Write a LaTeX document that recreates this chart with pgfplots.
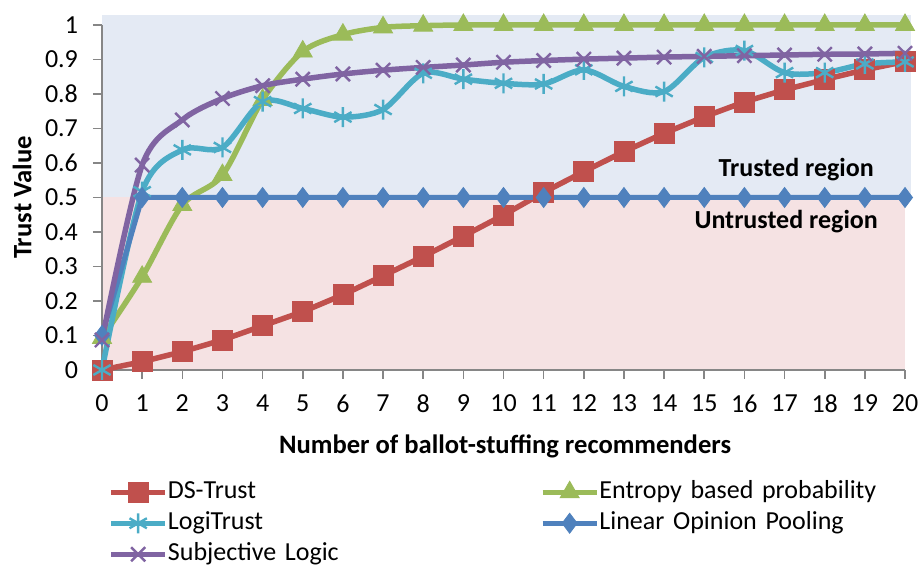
\documentclass[border=0pt]{standalone}
\usepackage{fontspec}
\setmainfont{Carlito}
\usepackage{pgfplots}
\pgfplotsset{compat=1.18}

\definecolor{dsred}{HTML}{C0504D}
\definecolor{entgreen}{HTML}{9BBB59}
\definecolor{logiaqua}{HTML}{4BACC6}
\definecolor{linblue}{HTML}{4F81BD}
\definecolor{subjpurple}{HTML}{8064A2}
\definecolor{bgblue}{HTML}{E4EAF4}
\definecolor{bgpink}{HTML}{F5E2E3}
\definecolor{axisgray}{HTML}{868686}

\begin{document}
\begin{tikzpicture}
\begin{axis}[
    at={(0,0)}, anchor=south west,
    scale only axis, width=401.5pt, height=172.5pt,
    set layers, clip=false,
    xmin=0, xmax=20, ymin=0, ymax=1,
    xtick={0,1,...,20},
    ytick={0,0.1,0.2,0.3,0.4,0.5,0.6,0.7,0.8,0.9,1},
    yticklabels={0,0.1,0.2,0.3,0.4,0.5,0.6,0.7,0.8,0.9,1},
    axis x line*=bottom, axis y line*=left,
    axis line style={draw=axisgray, line width=0.8pt, -},
    tick style={draw=axisgray, line width=0.8pt},
    major tick length=4.5pt,
    tick align=outside,
    /pgf/number format/assume math mode=true,
    tick label style={font=\fontsize{13}{15}\selectfont},
    xticklabel style={yshift=-4.5pt},
    yticklabel style={xshift=-4pt},
    xlabel={\bfseries Number of ballot-stuffing recommenders},
    ylabel={\bfseries Trust Value},
    label style={font=\fontsize{13.3}{15}\selectfont},
    xlabel style={at={(axis description cs:0.502,-0.222)}, anchor=center},
    ylabel style={at={(axis description cs:-0.0996,0.5)}, anchor=center},
    legend columns=2,
    legend cell align=left,
    legend style={at={(axis description cs:0.0075,-0.317)}, anchor=north west,
        draw=none, fill=none, inner sep=0pt,
        font=\fontsize{13}{15}\selectfont,
        nodes={text width=186pt, align=left, inner xsep=0pt, inner ysep=0pt,
               text height=9.5pt, text depth=3pt},
        row sep=3pt},
    legend image code/.code={\draw[mark repeat=2, mark phase=2]
        plot coordinates {(0pt,0pt) (13.5pt,0pt) (27pt,0pt)};},
]

\begin{pgfonlayer}{axis background}
\fill[bgblue] (axis cs:0,0.5) rectangle (axis cs:20.15,1.03);
\fill[bgpink] (axis cs:0,0) rectangle (axis cs:20,0.5);
\end{pgfonlayer}

% DS-Trust
\addplot[color=dsred, line width=2.75pt, mark=square*,
    mark options={line width=0.4pt}, mark size=5pt]
coordinates {
(0,0) (1,0.024) (2,0.053) (3,0.087) (4,0.128) (5,0.169) (6,0.218)
(7,0.273) (8,0.329) (9,0.388) (10,0.449) (11,0.515) (12,0.575)
(13,0.633) (14,0.686) (15,0.734) (16,0.777) (17,0.812) (18,0.842)
(19,0.870) (20,0.894)
};
\addlegendentry{DS-Trust}

% Entropy based probability
\addplot[color=entgreen, line width=2.75pt, smooth, mark=triangle*,
    mark options={line width=0.4pt}, mark size=5.5pt]
coordinates {
(0,0.093) (1,0.27) (2,0.478) (3,0.565) (4,0.783) (5,0.923) (6,0.972)
(7,0.993) (8,0.998) (9,1) (10,1) (11,1) (12,1) (13,1) (14,1) (15,1)
(16,1) (17,1) (18,1) (19,1) (20,1)
};
\addlegendentry{Entropy based probability}

% LogiTrust
\addplot[color=logiaqua, line width=2.75pt, smooth, mark=asterisk,
    mark options={line width=1.2pt}, mark size=5pt]
coordinates {
(0,0) (1,0.517) (2,0.638) (3,0.645) (4,0.778) (5,0.758) (6,0.733)
(7,0.755) (8,0.86) (9,0.843) (10,0.831) (11,0.829) (12,0.87)
(13,0.822) (14,0.807) (15,0.906) (16,0.926) (17,0.862) (18,0.862)
(19,0.887) (20,0.893)
};
\addlegendentry{LogiTrust}

% Linear Opinion Pooling
\addplot[color=linblue, line width=2.5pt, mark=diamond*,
    mark options={line width=0.4pt}, mark size=5pt]
coordinates {
(0,0.1) (1,0.5) (2,0.5) (3,0.5) (4,0.5) (5,0.5) (6,0.5) (7,0.5)
(8,0.5) (9,0.5) (10,0.5) (11,0.5) (12,0.5) (13,0.5) (14,0.5)
(15,0.5) (16,0.5) (17,0.5) (18,0.5) (19,0.5) (20,0.5)
};
\addlegendentry{Linear Opinion Pooling}

% Subjective Logic
\addplot[color=subjpurple, line width=2.75pt, smooth, mark=x,
    mark options={line width=1.2pt}, mark size=5pt]
coordinates {
(0,0.087) (1,0.594) (2,0.725) (3,0.787) (4,0.824) (5,0.843) (6,0.858)
(7,0.869) (8,0.877) (9,0.884) (10,0.892) (11,0.897) (12,0.901)
(13,0.904) (14,0.907) (15,0.909) (16,0.911) (17,0.913) (18,0.915)
(19,0.916) (20,0.918)
};
\addlegendentry{Subjective Logic}

\node[font=\fontsize{13}{15}\selectfont\bfseries] at (axis cs:17.29,0.58) {Trusted region};
\node[font=\fontsize{13}{15}\selectfont\bfseries] at (axis cs:17.04,0.429) {Untrusted region};
\end{axis}
\pgfresetboundingbox
\useasboundingbox (-51pt,-97.5pt) rectangle (409pt,185pt);
\end{tikzpicture}
\end{document}
